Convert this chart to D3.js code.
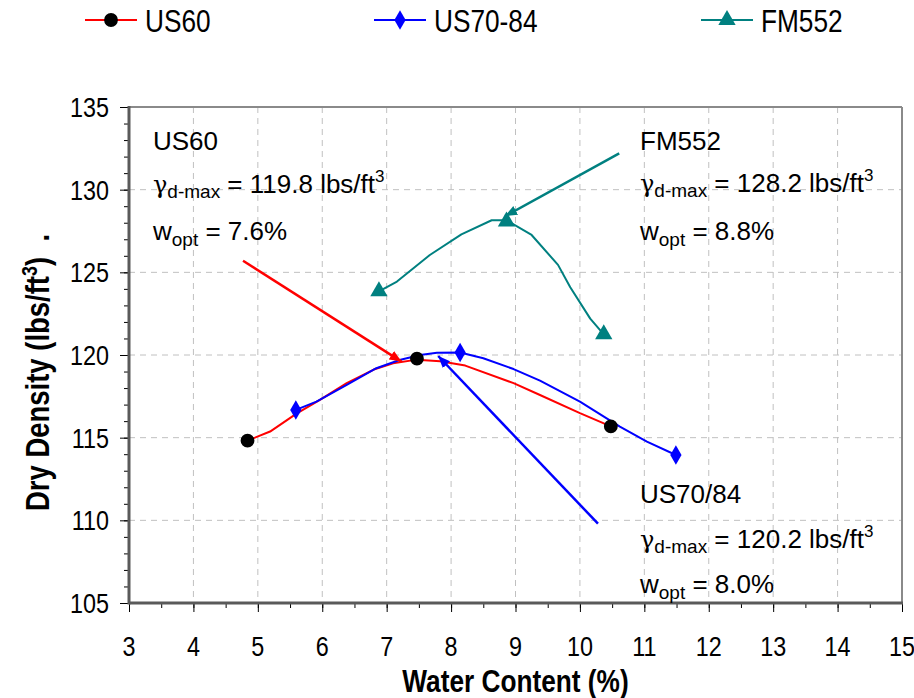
<!DOCTYPE html>
<html><head><meta charset="utf-8">
<script src="https://cdn.jsdelivr.net/npm/d3@7"></script>
<style>body{margin:0;background:#fff} svg{display:block} text{font-family:"Liberation Sans",Arial,sans-serif;fill:#000}</style>
</head><body><svg id="c" width="914" height="698"></svg>
<script>
// ---------- data ----------
const xTickValues = [3,4,5,6,7,8,9,10,11,12,13,14,15];
const yTickValues = [105,110,115,120,125,130,135];
const seriesNames = ["US60","US70-84","FM552"];
const seriesColors = ["#FF0000","#0000FF","#008080"];
// measured points (markers)
const us60Points   = [[4.84,114.82],[7.47,119.78],[10.48,115.68]];
const us7084Points = [[5.59,116.68],[8.14,120.15],[11.49,113.95]];
const fm552Points  = [[6.88,123.85],[8.86,128.08],[10.37,121.25]];
// fitted curves
const us60Curve = [[4.84,114.82],[5.19,115.37],[5.6,116.45],[5.97,117.3],[6.38,118.3],[6.8,119.12],[7.1,119.5],[7.47,119.72],[7.83,119.62],[8.22,119.36],[8.97,118.3],[9.38,117.58],[10.0,116.48],[10.48,115.68]];
const us7084Curve = [[5.59,116.68],[5.91,117.18],[6.38,118.19],[6.84,119.2],[7.2,119.7],[7.52,120.0],[7.78,120.14],[8.14,120.15],[8.5,119.8],[8.97,119.15],[9.38,118.45],[10.0,117.18],[10.62,115.67],[11.04,114.76],[11.49,113.95]];
const fm552Curve = [[6.88,123.85],[7.16,124.44],[7.67,126.05],[8.16,127.3],[8.63,128.15],[8.86,128.15],[9.25,127.26],[9.66,125.45],[9.85,124.1],[10.16,122.2],[10.37,121.25]];
// annotation arrows [from, to]
const arrowRed  = [[4.77,125.7],[7.23,119.6]];
const arrowBlue = [[10.28,109.8],[7.8,119.94]];
const arrowTeal = [[10.61,132.2],[8.84,128.4]];
// annotation texts
const annUS60  = {name:"US60",    gamma:"119.8", wopt:"7.6%"};
const annFM552 = {name:"FM552",   gamma:"128.2", wopt:"8.8%"};
const annUS70  = {name:"US70/84", gamma:"120.2", wopt:"8.0%"};

// ---------- layout ----------
const svg = d3.select("#c");
const L=129, R=902, T=107, B=603;
const x = d3.scaleLinear().domain([3,15]).range([L,R]);
const y = d3.scaleLinear().domain([105,135]).range([B,T]);
const NARROW = 0.82;

// grid
const grid = svg.append("g").attr("stroke","#c0c0c0").attr("stroke-width",1).attr("stroke-dasharray","6,5");
xTickValues.slice(1,-1).forEach(v=>grid.append("line").attr("x1",x(v)).attr("x2",x(v)).attr("y1",T).attr("y2",B));
yTickValues.slice(1,-1).forEach(v=>grid.append("line").attr("y1",y(v)).attr("y2",y(v)).attr("x1",L).attr("x2",R));

// frame
svg.append("line").attr("x1",L).attr("x2",R).attr("y1",T).attr("y2",T).attr("stroke","#8a8a8a").attr("stroke-width",2);
svg.append("line").attr("x1",R).attr("x2",R).attr("y1",T).attr("y2",B).attr("stroke","#8a8a8a").attr("stroke-width",2);

// axes with d3
const minorX = d3.range(3,15.01,0.5);
const minorY = d3.range(105,135.01,1);
const gxMinor = svg.append("g").attr("transform",`translate(0,${B})`).call(d3.axisBottom(x).tickValues(minorX).tickSize(5).tickFormat(""));
const gyMinor = svg.append("g").attr("transform",`translate(${L},0)`).call(d3.axisLeft(y).tickValues(minorY).tickSize(5).tickFormat(""));
const gx = svg.append("g").attr("transform",`translate(0,${B})`).call(d3.axisBottom(x).tickValues(xTickValues).tickSize(9).tickFormat(""));
const gy = svg.append("g").attr("transform",`translate(${L},0)`).call(d3.axisLeft(y).tickValues(yTickValues).tickSize(9).tickFormat(""));
[gxMinor,gyMinor,gx,gy].forEach(g=>{g.select(".domain").remove(); g.selectAll("line").attr("stroke","#000").attr("stroke-width",1);});
svg.append("line").attr("x1",L).attr("x2",L).attr("y1",T-1).attr("y2",B+1.5).attr("stroke","#5a5a5a").attr("stroke-width",3);
svg.append("line").attr("x1",L).attr("x2",R+1).attr("y1",B).attr("y2",B).attr("stroke","#5a5a5a").attr("stroke-width",3);

// tick labels (narrow)
xTickValues.forEach(v=>svg.append("text").attr("transform",`translate(${x(v)},656) scale(${NARROW},1)`)
  .attr("text-anchor","middle").attr("font-size",28.5).text(v));
yTickValues.forEach(v=>svg.append("text").attr("transform",`translate(109,${y(v)+10}) scale(${NARROW},1)`)
  .attr("text-anchor","end").attr("font-size",28.5).text(v));

// axis titles
svg.append("text").attr("transform",`translate(${(L+R)/2},692) scale(${NARROW},1)`)
  .attr("text-anchor","middle").attr("font-size",32).attr("font-weight","bold").text("Water Content (%)");
const yt = svg.append("text").attr("transform",`translate(49,511) rotate(-90) scale(${NARROW},1)`)
  .attr("font-size",33.5).attr("font-weight","bold").attr("xml:space","preserve").style("white-space","pre");
yt.append("tspan").text("Dry Density (lbs/ft");
yt.append("tspan").attr("font-size",22).attr("dy",-12).text("3");
yt.append("tspan").attr("dy",12).text(")  .");

// arrow markers
const defs = svg.append("defs");
seriesColors.forEach((c,i)=>{
  defs.append("marker").attr("id","ah"+i).attr("markerUnits","userSpaceOnUse")
    .attr("markerWidth",14).attr("markerHeight",12).attr("refX",12).attr("refY",6).attr("orient","auto")
    .append("path").attr("d","M0,1 L12,6 L0,11 Z").attr("fill",c);
});

// curves
const line = d3.line().x(d=>x(d[0])).y(d=>y(d[1]));
[us60Curve,us7084Curve,fm552Curve].forEach((c,i)=>
  svg.append("path").datum(c).attr("d",line).attr("fill","none").attr("stroke",seriesColors[i]).attr("stroke-width",2).attr("stroke-linejoin","round"));

// arrows
[arrowRed,arrowBlue,arrowTeal].forEach((a,i)=>
  svg.append("path").datum(a).attr("d",line).attr("fill","none").attr("stroke",seriesColors[i]).attr("stroke-width",2.5).attr("marker-end",`url(#ah${i})`));

// markers
const sym = [d3.symbolCircle, d3.symbolDiamond, d3.symbolTriangle];
const symSize = [150, 110, 130];
const symFill = ["#000","#0000FF","#008080"];
[us60Points,us7084Points,fm552Points].forEach((pts,i)=>{
  svg.append("g").selectAll("path").data(pts).join("path")
    .attr("transform",d=>`translate(${x(d[0])},${y(d[1])})`)
    .attr("d",d3.symbol(sym[i],symSize[i])).attr("fill",symFill[i]);
});

// legend
const legendX = [85,374,701];
seriesNames.forEach((n,i)=>{
  const g = svg.append("g").attr("transform",`translate(${legendX[i]},20)`);
  g.append("line").attr("x1",0).attr("x2",52).attr("stroke",seriesColors[i]).attr("stroke-width",2);
  g.append("path").attr("transform","translate(26,0)").attr("d",d3.symbol(sym[i],symSize[i])).attr("fill",symFill[i]);
  g.append("text").attr("transform",`translate(60,12) scale(${NARROW},1)`).attr("font-size",32).text(n);
});

// annotations
function annot(a,ax,y1,y2,y3){
  const fs=26;
  svg.append("text").attr("x",ax).attr("y",y1).attr("font-size",fs).text(a.name);
  const t2 = svg.append("text").attr("x",ax).attr("y",y2).attr("font-size",fs);
  t2.append("tspan").attr("font-family","DejaVu Serif, serif").attr("font-size",24).text("γ");
  t2.append("tspan").attr("font-size",19).attr("dy",5).text("d-max");
  t2.append("tspan").attr("dy",-5).text(` = ${a.gamma} lbs/ft`);
  t2.append("tspan").attr("font-size",17).attr("dy",-11).text("3");
  const t3 = svg.append("text").attr("x",ax).attr("y",y3).attr("font-size",fs);
  t3.append("tspan").text("w");
  t3.append("tspan").attr("font-size",19).attr("dy",6).text("opt");
  t3.append("tspan").attr("dy",-6).text(` = ${a.wopt}`);
}
annot(annUS60,153,150,193,240);
annot(annFM552,640,150,192,240);
annot(annUS70,640,503,548,593);
</script></body></html>
